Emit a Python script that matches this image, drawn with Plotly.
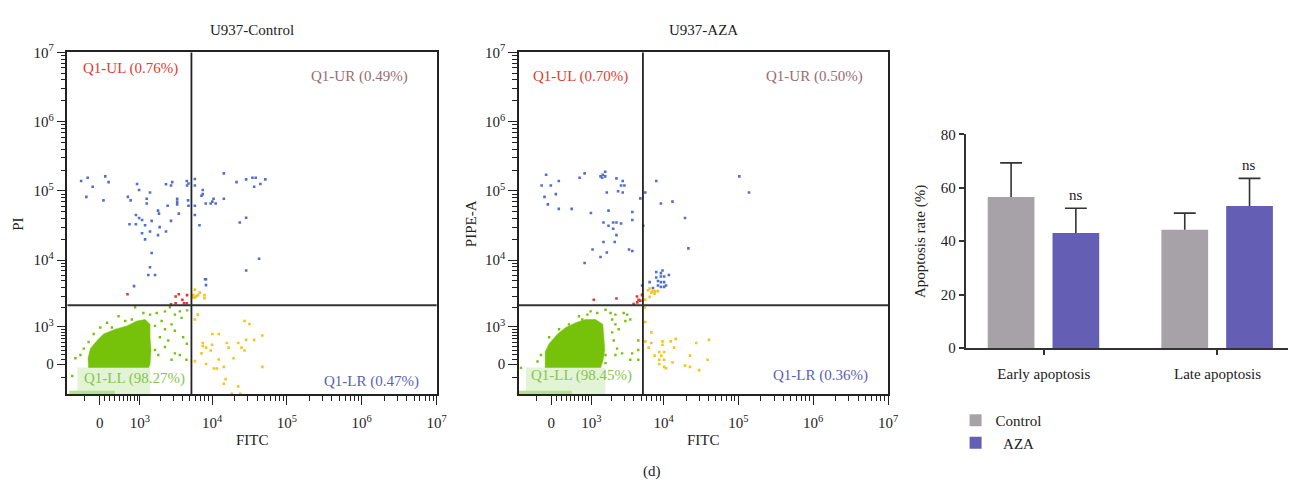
import numpy as np
import plotly.graph_objects as go

# ---------------- display transform (biexponential-like) ----------------
C2 = 1e5  # width parameter squared


def tf(v):
    v = np.asarray(v, dtype=float)
    return np.log10((v + np.sqrt(v * v + 4 * C2)) / 2.0)


# ---------------- gates ----------------
gate_fitc = 5300
gate_pi = 2200

# ---------------- U937-Control ----------------
ctrl_blue_fitc = [-380, -238, -137, 110, 176, -266, 75, 900, 970, 1420, 620, 700, 1270, 1270, 2390, 2800, 2910,
                  4590, 4630, 4840, 3400, 3400, 3400, 2520, 4780, 4840, 1850, 1910, 3580, 860, 970, 1080, 1500,
                  2800, 665, 860, 1200, 1950, 1420, 2390, 1080, 1850, 1200, 1500, 1420, 1340, 1680, 800,
                  5890, 5890, 7520, 7520, 7230, 5890, 5890, 6800, 8250, 9600, 10100, 10500, 11200, 14400, 14400,
                  21300, 28600, 34700, 38400, 36600, 44300, 51600, 23500, 28600, 42600, 28600, 8070, 8300, 8300]
ctrl_blue_pi = [139000, 155000, 115000, 162000, 134000, 82000, 73000, 126000, 103000, 95000, 82000, 73000, 77000,
                66000, 125000, 120000, 134000, 139000, 120000, 128000, 77000, 70000, 64000, 61000, 73000, 61000,
                52000, 47000, 47000, 45000, 40600, 38000, 37000, 37000, 33000, 33000, 32000, 30000, 26000, 26000,
                24500, 23000, 20000, 12700, 7900, 6100, 6100, 4200,
                149000, 120000, 103000, 90000, 85000, 61000, 45000, 32000, 66000, 66000, 70000, 77000, 66000,
                179000, 77000, 134000, 147000, 155000, 155000, 115000, 126000, 147000, 35000, 41000, 10500, 7100,
                5300, 5300, 4350]
ctrl_red_fitc = [610, 3580, 3240, 4000, 4630, 3240, 4210, 4590, 2800]
ctrl_red_pi = [3200, 3200, 2960, 2650, 3100, 2350, 2350, 2350, 2270]
ctrl_orange_fitc = [5890, 5600, 6200, 6870, 6500, 7930, 7930, 5550, 5890]
ctrl_orange_pi = [3740, 3100, 3000, 3370, 3100, 3100, 2800, 2860, 2860]
ctrl_lr_fitc = [6460, 5890, 27200, 31700, 10100, 12300, 47100, 28600, 36600, 15800, 22400, 7520, 7520, 10000, 8320,
                16700, 24800, 27200, 9600, 7230, 19400, 12300, 5890, 8320, 14400, 10600, 11600, 47100, 15200,
                14400, 22400, 18400, 23800]
ctrl_lr_pi = [1576, 1321, 1248, 1119, 743, 743, 695, 567, 567, 480, 480, 480, 405, 437, 364, 364, 364, 297, 297, 231,
              125, 96, 62, 1, -59, -93, -93, -59, -329, -441, -511, -729, -729]
ctrl_green_fitc = [834, 388, 1131, 1422, 1773, 2313, 2706, 3168, 3697, 3900, 2081, 2856, 2313, 3168, 1968, 2568,
                   2313, 3168, 3697, 2856, 4097, 13, -117, -219, -321, -517, -599, -396, 1676, 1676, 1867, 1199,
                   733, 549, 244, 144, 4630, 4590, 4540]
ctrl_green_pi = [2051, 1491, 1672, 1576, 1672, 1773, 2051, 1576, 1773, 1404, 1248, 1102, 911, 855, 644, 551, 381,
                 231, 196, 91, 644, 972, 743, 506, 341, 125, -256, 196, 1038, 306, 196, 1173, 1321, 1248, 972,
                 1173, 1835, 462, 91]
ctrl_core_fitc = [-219, -231, -182, -50, 75, 315, 593, 890, 1199, 1422, 1422, 1470, 1422, 1342]
ctrl_core_pi = [-79, 125, 341, 551, 743, 911, 1038, 1248, 1321, 1102, 644, 306, -13, -79]
ctrl_band_fitc = [-470, 1420, 1420, -470]
ctrl_band_pi = [-79, -79, -749, -749]
ctrl_strip_fitc = [-680, 300, 300, -680]
ctrl_strip_pi = [-640, -640, -749, -749]

# ---------------- U937-AZA ----------------
aza_blue_fitc = [-98, -188, -6, 150, 91, -130, -64, 150, 426, 627, 772, 1374, 1484, 1607, 1455, 1607, 2313, 2823,
                 2679, 2973, 1693, 2438, 2823, 981, 1791, 3811, 3811, 1518, 1791, 2081, 2313, 2679, 2081, 2313,
                 1518, 2189, 1041, 1693, 1374, 3438, 3811, 772,
                 4889, 5698, 5351, 8000, 9230, 13200, 19400, 21500, 103000, 139000,
                 8000, 9230, 9700, 9230, 10200, 11800, 8000, 8430, 9230, 10200, 10800, 8430, 9230, 10200, 7230,
                 6520, 5160]
aza_blue_pi = [171000, 120000, 120000, 139000, 90000, 82000, 64000, 55000, 55000, 155000, 179000, 162000, 171000,
               189000, 155000, 162000, 152000, 139000, 120000, 120000, 95000, 99000, 95000, 48000, 52000, 49700,
               38000, 35000, 31400, 35000, 35000, 33800, 28500, 23000, 18300, 18300, 14300, 12900, 11100, 14300,
               13600, 9100,
               78000, 95000, 31400, 139000, 66000, 70000, 40600, 14800, 162000, 95000,
               6750, 6500, 7100, 5800, 5800, 6100, 5600, 5000, 4800, 4800, 4300, 4300, 4100, 4100, 3950, 4800,
               4300]
aza_red_fitc = [1090, 2313, 4410, 4630, 4889, 4450, 3975, 5160]
aza_red_pi = [2650, 2770, 2960, 2650, 2570, 2420, 2290, 3100]
aza_orange_fitc = [6210, 6520, 7140, 7760, 8430, 7590, 6870, 5698, 6520, 5160]
aza_orange_pi = [3660, 3870, 3550, 3550, 3550, 3260, 3370, 2650, 2920, 3190]
aza_lr_fitc = [5600, 5698, 6870, 5698, 6870, 6320, 9700, 12500, 14600, 9700, 13900, 27400, 40500, 7590, 9310,
               10200, 8770, 8770, 10200, 13200, 19400, 22600, 22600, 38900, 10200, 10800, 8770, 30000]
aza_lr_pi = [2029, 1204, 798, 524, 480, 364, 524, 524, 595, 437, 364, 480, 567, 180, 180, 260, 260, 91, 91, 35, -31,
             -59, 180, 91, -59, -86, 1, -127]
aza_green_fitc = [610, 703, 860, 970, 1228, 1623, 1910, 2017, 2240, 2910, 3240, 3580, 3068, 2240, 2485, 2017, 2122,
                  2362, 2240, 2768, 3580, 3790, 156, -40, -202, -273, 1623, 1623, 1158, 364, -675, 655, 4590,
                  4590, 4590]
aza_green_pi = [1491, 1321, 1576, 1773, 1672, 1871, 1672, 1321, 1576, 1672, 1576, 1321, 1248, 1102, 911, 798, 551,
                341, 196, 231, 91, 231, 911, 644, 196, 55, 196, 21, -13, 1102, -79, 1102, 551, 306, 91]
aza_core_fitc = [-117, -117, -40, 124, 293, 523, 800, 1158, 1484, 1533, 1585, 1484, 1374]
aza_core_pi = [-79, 267, 462, 743, 972, 1173, 1321, 1321, 1102, 644, 306, 55, -79]
aza_band_fitc = [-539, 1600, 1600, -539]
aza_band_pi = [-79, -79, -749, -749]
aza_strip_fitc = [-733, 420, 420, -733]
aza_strip_pi = [-640, -640, -749, -749]

ctrl_quadrants = ["Q1-UL (0.76%)", "Q1-UR (0.49%)", "Q1-LL (98.27%)", "Q1-LR (0.47%)"]
aza_quadrants = ["Q1-UL (0.70%)", "Q1-UR (0.50%)", "Q1-LL (98.45%)", "Q1-LR (0.36%)"]

# ---------------- bar chart ----------------
categories = ["Early apoptosis", "Late apoptosis"]
control_mean = [56.5, 44.3]
control_sd = [12.8, 6.2]
aza_mean = [43.1, 53.2]
aza_sd = [9.2, 10.3]
significance = ["ns", "ns"]

# ---------------- tick labels ----------------
flow_tick_values = [0, 1e3, 1e4, 1e5, 1e6, 1e7]
flow_tick_labels = ["0", "10<sup>3</sup>", "10<sup>4</sup>", "10<sup>5</sup>", "10<sup>6</sup>", "10<sup>7</sup>"]
bar_tick_values = [0, 20, 40, 60, 80]

FONT = "Liberation Serif, Times New Roman, serif"
FS = 15
GREEN = "#76c10a"
LIGHT_GREEN = "#e3f3d6"
BLUE = "#4f6fd3"
RED = "#e8352c"
YELLOW = "#f9c31d"

W, H = 1298, 491

# bar geometry (style)
BAR_W = 0.269
OFF_CTRL = -0.323
OFF_AZA = 0.05
CAP = 0.063

fig = go.Figure()


def add_flow(d, xa, ya):
    def poly(fx, fy, color):
        fig.add_trace(go.Scatter(x=tf(fx), y=tf(fy), xaxis=xa, yaxis=ya, mode="lines", fill="toself",
                                 fillcolor=color, line=dict(width=0.5, color=color), hoverinfo="skip",
                                 showlegend=False))

    def pts(fx, fy, color, size=2.6):
        fig.add_trace(go.Scatter(x=tf(fx), y=tf(fy), xaxis=xa, yaxis=ya, mode="markers",
                                 marker=dict(color=color, size=size, symbol="square", line=dict(width=0)),
                                 showlegend=False, hoverinfo="skip"))

    poly(d["band_fitc"], d["band_pi"], LIGHT_GREEN)
    poly(d["strip_fitc"], d["strip_pi"], "#b8e092")
    poly(d["core_fitc"], d["core_pi"], GREEN)
    pts(d["green_fitc"], d["green_pi"], GREEN, 2.4)
    pts(d["lr_fitc"], d["lr_pi"], YELLOW)
    pts(d["orange_fitc"], d["orange_pi"], YELLOW)
    pts(d["red_fitc"], d["red_pi"], RED)
    pts(d["blue_fitc"], d["blue_pi"], BLUE)


add_flow(dict(band_fitc=ctrl_band_fitc, band_pi=ctrl_band_pi, strip_fitc=ctrl_strip_fitc, strip_pi=ctrl_strip_pi,
              core_fitc=ctrl_core_fitc, core_pi=ctrl_core_pi, green_fitc=ctrl_green_fitc, green_pi=ctrl_green_pi,
              lr_fitc=ctrl_lr_fitc, lr_pi=ctrl_lr_pi, orange_fitc=ctrl_orange_fitc, orange_pi=ctrl_orange_pi,
              red_fitc=ctrl_red_fitc, red_pi=ctrl_red_pi, blue_fitc=ctrl_blue_fitc, blue_pi=ctrl_blue_pi),
         "x", "y")
add_flow(dict(band_fitc=aza_band_fitc, band_pi=aza_band_pi, strip_fitc=aza_strip_fitc, strip_pi=aza_strip_pi,
              core_fitc=aza_core_fitc, core_pi=aza_core_pi, green_fitc=aza_green_fitc, green_pi=aza_green_pi,
              lr_fitc=aza_lr_fitc, lr_pi=aza_lr_pi, orange_fitc=aza_orange_fitc, orange_pi=aza_orange_pi,
              red_fitc=aza_red_fitc, red_pi=aza_red_pi, blue_fitc=aza_blue_fitc, blue_pi=aza_blue_pi),
         "x2", "y2")

# bars
fig.add_trace(go.Bar(x=categories, y=control_mean, name="Control", xaxis="x3", yaxis="y3",
                     marker=dict(color="#a7a2a8", line=dict(width=0)), width=BAR_W, offset=OFF_CTRL,
                     hoverinfo="skip"))
fig.add_trace(go.Bar(x=categories, y=aza_mean, name="\u00a0\u00a0AZA", xaxis="x3", yaxis="y3",
                     marker=dict(color="#655eb5", line=dict(width=0)), width=BAR_W, offset=OFF_AZA,
                     hoverinfo="skip"))

# upper-only error whiskers (drawn on an overlaid numeric axis aligned with the categories)
ex, ey = [], []
for means, sds, off in ((control_mean, control_sd, OFF_CTRL), (aza_mean, aza_sd, OFF_AZA)):
    for i, (m, s) in enumerate(zip(means, sds)):
        xc = i + off + BAR_W / 2
        ex += [xc, xc, None, xc - CAP, xc + CAP, None]
        ey += [m, m + s, None, m + s, m + s, None]
fig.add_trace(go.Scatter(x=ex, y=ey, xaxis="x4", yaxis="y3", mode="lines",
                         line=dict(color="#333333", width=1.6), showlegend=False, hoverinfo="skip"))

# ---------------- axes ----------------
x_range = [float(tf(-733)), 7.0]
y_range = [float(tf(-749)), 7.0]

minor_vals = [-300] + [100 * k for k in range(1, 10)] + [m * 10 ** e for e in range(3, 7) for m in range(2, 10)]

flow_axis = dict(tickmode="array", tickvals=tf(flow_tick_values), ticktext=flow_tick_labels,
                 ticks="outside", ticklen=9, tickwidth=1.2, tickcolor="#222",
                 showline=True, linecolor="#222", linewidth=1.6, mirror=True,
                 showgrid=False, zeroline=False,
                 tickfont=dict(family=FONT, size=FS, color="#222"),
                 minor=dict(tickmode="array", tickvals=tf(minor_vals), ticks="outside", ticklen=5,
                            tickwidth=1, tickcolor="#222", showgrid=False))

dom_y = [92 / H, 447 / H]
dom_x1 = [68 / W, 440 / W]
dom_x2 = [523 / W, 895 / W]
bar_x_range = [-0.451, 1.406]

fig.update_layout(
    xaxis=dict(flow_axis, domain=dom_x1, range=x_range, anchor="y", ticklabelstandoff=5),
    yaxis=dict(flow_axis, domain=dom_y, range=y_range, anchor="x"),
    xaxis2=dict(flow_axis, domain=dom_x2, range=x_range, anchor="y2", ticklabelstandoff=5),
    yaxis2=dict(flow_axis, domain=dom_y, range=y_range, anchor="x2"),
    xaxis3=dict(domain=[973 / W, 1.0], range=bar_x_range, anchor="y3", type="category",
                showline=True, linecolor="#333", linewidth=1.5, ticks="outside", ticklen=5,
                tickcolor="#333", tickwidth=1.5, showgrid=False, zeroline=False, ticklabelstandoff=6,
                tickfont=dict(family=FONT, size=FS, color="#222")),
    xaxis4=dict(domain=[973 / W, 1.0], range=bar_x_range, overlaying="x3", anchor="y3", visible=False,
                showgrid=False, zeroline=False),
    yaxis3=dict(domain=[140 / H, 362 / H], range=[0, 80], anchor="x3", tickvals=bar_tick_values,
                showline=True, linecolor="#333", linewidth=1.5, ticks="outside", ticklen=5,
                tickcolor="#333", tickwidth=1.5, showgrid=False, zeroline=False,
                tickfont=dict(family=FONT, size=FS, color="#222")),
    barmode="overlay",
    width=W, height=H, margin=dict(l=0, r=0, t=0, b=0),
    paper_bgcolor="white", plot_bgcolor="white",
    font=dict(family=FONT, size=FS, color="#222"),
    showlegend=True,
    legend=dict(x=963 / W, y=(H - 409) / H, xanchor="left", yanchor="top",
                bgcolor="rgba(0,0,0,0)", font=dict(family=FONT, size=FS, color="#222"),
                tracegroupgap=0, itemwidth=30),
)

# quadrant gate lines
for xa, ya in (("x", "y"), ("x2", "y2")):
    fig.add_shape(type="line", xref=xa, yref=ya + " domain", x0=float(tf(gate_fitc)), x1=float(tf(gate_fitc)),
                  y0=0, y1=1, line=dict(color="#222", width=1.8), layer="above")
    fig.add_shape(type="line", xref=xa + " domain", yref=ya, x0=0, x1=1, y0=float(tf(gate_pi)),
                  y1=float(tf(gate_pi)), line=dict(color="#333", width=2), layer="above")

ann = []
q_colors = ["#e03c31", "#9a6c70", "#86c64d", "#5a5fb6"]
q_pos_ctrl = [(0.0376, 0.952, "left"), (0.927, 0.930, "right"), (0.040, 0.045, "left"), (0.957, 0.039, "right")]
q_pos_aza = [(0.032, 0.930, "left"), (0.938, 0.930, "right"), (0.027, 0.054, "left"), (0.952, 0.054, "right")]
for (xa, ya, labels, pos) in (("x", "y", ctrl_quadrants, q_pos_ctrl), ("x2", "y2", aza_quadrants, q_pos_aza)):
    for lab, (px, py, anc), col in zip(labels, pos, q_colors):
        ann.append(dict(text=lab, xref=xa + " domain", yref=ya + " domain", x=px, y=py, xanchor=anc,
                        yanchor="middle", showarrow=False, font=dict(family=FONT, size=FS, color=col)))

# titles and axis labels
for text, x, y in (("U937-Control", 254, 21), ("U937-AZA", 709, 21), ("FITC", 254, 446), ("FITC", 709, 446),
                   ("(d)", 657, 479)):
    ann.append(dict(text=text, xref="paper", yref="paper", x=x / W, y=(H - y) / H, xanchor="center",
                    yanchor="middle", showarrow=False, font=dict(family=FONT, size=FS, color="#222")))
for text, x, y in (("PI", 18, 222), ("PIPE-A", 475, 222), ("Apoptosis rate (%)", 927, 240)):
    ann.append(dict(text=text, xref="paper", yref="paper", x=x / W, y=(H - y) / H, xanchor="center",
                    yanchor="middle", textangle=-90, showarrow=False,
                    font=dict(family=FONT, size=FS, color="#222")))

# significance labels
for i, cat in enumerate(categories):
    ann.append(dict(text=significance[i], xref="x3", yref="y3", x=cat, y=aza_mean[i] + aza_sd[i],
                    xshift=32, yshift=3, xanchor="center", yanchor="bottom", showarrow=False,
                    font=dict(family=FONT, size=FS, color="#222")))

fig.update_layout(annotations=ann)

fig.write_html("out.html")
